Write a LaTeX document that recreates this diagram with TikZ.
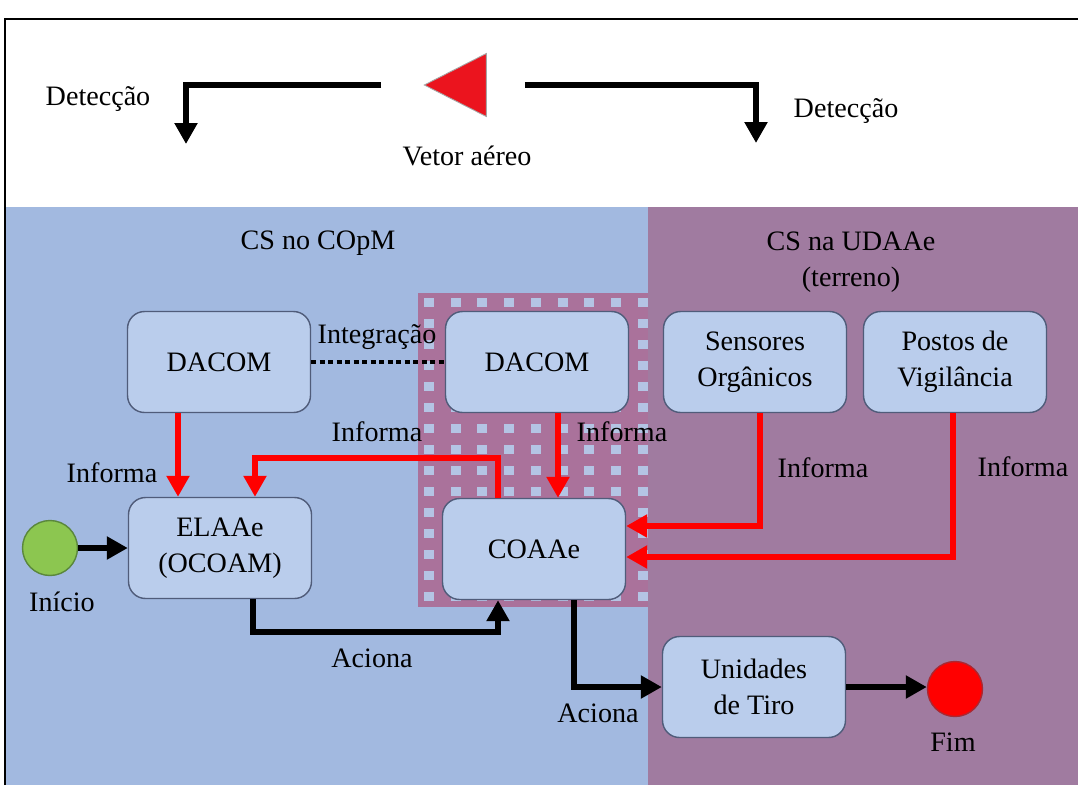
\documentclass[tikz,border=0pt]{standalone}
\usepackage{fontspec}
\setmainfont{Liberation Serif}
\usetikzlibrary{arrows.meta,positioning,shapes.geometric}

\definecolor{bgblue}{RGB}{162,185,224}
\definecolor{bgpurple}{RGB}{160,123,160}
\definecolor{hatchbg}{RGB}{170,114,155}
\definecolor{hatchsq}{RGB}{180,196,228}
\definecolor{boxfill}{RGB}{186,205,236}
\definecolor{boxline}{RGB}{80,92,122}
\definecolor{startgreen}{RGB}{140,198,80}
\definecolor{startline}{RGB}{90,135,60}
\definecolor{endline}{RGB}{170,40,50}
\definecolor{vetorred}{RGB}{235,20,30}

\begin{document}
\begin{tikzpicture}[
  x=0.02cm, y=-0.02cm,
  font=\fontsize{16}{20.5}\selectfont,
  karr/.style={-{Triangle[length=0.42cm,width=0.44cm]}, line width=0.12cm, black},
  rarr/.style={karr, line width=0.13cm, red},
  dotline/.style={line width=0.08cm, dash pattern=on 0.1cm off 0.07cm},
  procbox/.style={draw=boxline, line width=0.8pt, fill=boxfill,
    rounded corners=0.34cm, minimum width=3.66cm, minimum height=2.02cm,
    align=center, inner sep=2pt},
  endpt/.style={circle, minimum size=1.1cm, inner sep=0pt, line width=0.8pt},
  lbl/.style={inner sep=1pt, align=center},
]
\useasboundingbox (0,0) rectangle (1078,785);

% ── backgrounds ─────────────────────────────────────────────────────────────
\fill[white] (0,0) rectangle (1078,785);
\fill[bgblue] (5,207) rectangle (648,785);
\fill[bgpurple] (648,207) rectangle (1078,785);
\fill[hatchbg] (418,293) rectangle (648,607);
\foreach \i in {0,...,8}
  \foreach \j in {0,...,14}
    \fill[hatchsq] ({424+26.7*\i},{298+21*\j}) rectangle +(10,9);
\draw[line width=0.05cm] (5,785) -- (5,19) -- (1078,19);

% ── top: air vector and detection ───────────────────────────────────────────
\node[isosceles triangle, isosceles triangle stretches, shape border rotate=180,
      minimum width=1.26cm, minimum height=1.24cm, inner sep=0pt,
      fill=vetorred, draw=gray!70, line width=0.5pt] (vetor) at (467,85) {};
\node[lbl] (vetorlbl) at (467,156) {Vetor aéreo};
\node[lbl] (detL) at (98,99) {Detecção};
\node[lbl] (detR) at (846,111) {Detecção};
\coordinate (detLtip) at (186,144);
\coordinate (detRtip) at (756,143);

% ── areas ───────────────────────────────────────────────────────────────────
\node[lbl] (copm) at (318,243) {CS no COpM};
\node[lbl] (udaae) at (851,262) {CS na UDAAe\\(terreno)};

% ── boxes ───────────────────────────────────────────────────────────────────
\node[procbox] (dacomA) at (219,362) {DACOM};
\node[procbox] (dacomB) at (537,362) {DACOM};
\node[procbox] (sensores) at (755,362) {Sensores\\Orgânicos};
\node[procbox] (postos) at (955,362) {Postos de\\Vigilância};
\node[procbox] (elaae) at (220,548) {ELAAe\\(OCOAM)};
\node[procbox] (coaae) at (534,549) {COAAe};
\node[procbox] (unidades) at (754,687) {Unidades\\de Tiro};

\node[endpt, fill=startgreen, draw=startline] (inicio) at (50,548) {};
\node[endpt, fill=red, draw=endline] (fim) at (955,689) {};
\node[lbl] (inicioLbl) at (62,602) {Início};
\node[lbl] (fimLbl) at (953,742) {Fim};

% ── connector labels ────────────────────────────────────────────────────────
\node[lbl] (integ) at (377,337) {Integração};
\node[lbl] (infA) at (112,473) {Informa};
\node[lbl] (infB) at (377,432) {Informa};
\node[lbl] (infC) at (622,432) {Informa};
\node[lbl] (infD) at (823,468) {Informa};
\node[lbl] (infE) at (1023,467) {Informa};
\node[lbl] (acA) at (372,658) {Aciona};
\node[lbl] (acB) at (598,713) {Aciona};

% ── arrows ──────────────────────────────────────────────────────────────────
\draw[karr] ([xshift=-0.84cm]vetor.apex) -| (detLtip);
\draw[karr] ([xshift=0.76cm]vetor.east) -| (detRtip);

\draw[dotline] (dacomA) -- (dacomB);

\draw[rarr] ([xshift=-0.82cm]dacomA.south) -- ([xshift=-0.82cm]dacomA.south |- elaae.north);
\draw[rarr] ([xshift=-0.72cm]coaae.north) -- ++(0,-40) -| ([xshift=0.7cm]elaae.north);
\draw[rarr] ([xshift=0.42cm]dacomB.south) -- ([xshift=0.42cm]dacomB.south |- coaae.north);
\draw[rarr] ([xshift=0.1cm]sensores.south) |- ([yshift=0.46cm]coaae.east);
\draw[rarr] ([xshift=-0.04cm]postos.south) |- ([yshift=-0.16cm]coaae.east);

\draw[karr] (inicio.east) -- (inicio.east -| elaae.west);
\draw[karr] ([xshift=0.66cm]elaae.south) -- ++(0,33) -| ([xshift=-0.72cm]coaae.south);
\draw[karr] ([xshift=0.8cm]coaae.south) |- (unidades.west);
\draw[karr] (unidades.east) -- (unidades.east -| fim.west);
\end{tikzpicture}
\end{document}
